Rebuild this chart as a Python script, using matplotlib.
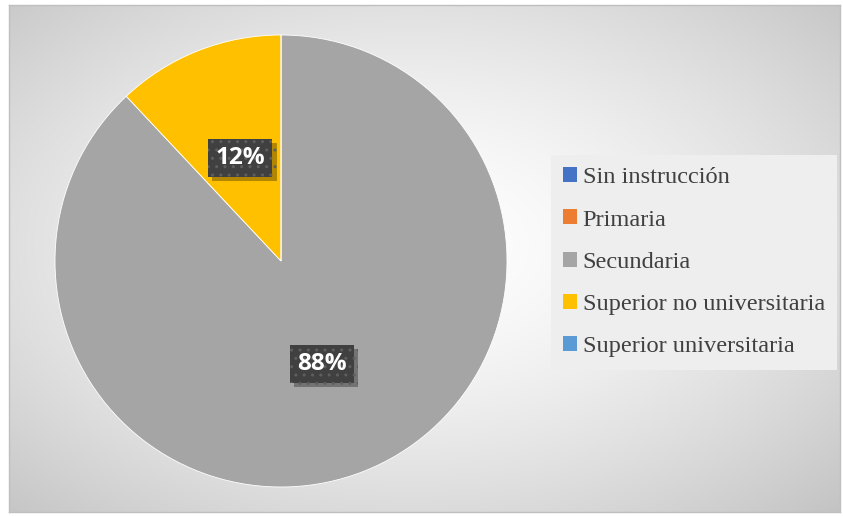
import numpy as np
import matplotlib.pyplot as plt
import matplotlib.patheffects as pe
from matplotlib.patches import Rectangle

categories = ["Sin instrucción", "Primaria", "Secundaria",
              "Superior no universitaria", "Superior universitaria"]
values = [0, 0, 88, 12, 0]
colors = ["#4472c4", "#ed7d31", "#a5a5a5", "#ffc000", "#5b9bd5"]

W, H = 843, 516
fig = plt.figure(figsize=(W / 100, H / 100), dpi=100)
fig.patch.set_facecolor("white")

# chart area with radial gradient background
x0, y0, x1, y1 = 9, 5, 840, 512
bg = fig.add_axes([x0 / W, 1 - y1 / H, (x1 - x0) / W, (y1 - y0) / H])
yy, xx = np.mgrid[-1:1:300j, -1:1:500j]
d = np.sqrt((xx + 0.03) ** 2 + (yy + 0.05) ** 2) / np.sqrt(2)
shade = 1.0 - 0.22 * d ** 1.5
bg.imshow(np.dstack([shade] * 3), aspect="auto", extent=[0, 1, 0, 1])
bg.set_xlim(0, 1)
bg.set_ylim(0, 1)
bg.set_xticks([])
bg.set_yticks([])
for s in bg.spines.values():
    s.set_color("#bfbfbf")
    s.set_linewidth(1.0)

# pie
cx, cy, r = 281, 261, 226
ax = fig.add_axes([(cx - r) / W, 1 - (cy + r) / H, 2 * r / W, 2 * r / H])
ax.set_facecolor("none")
wedges, _ = ax.pie(values, colors=colors, startangle=90, counterclock=False,
                   wedgeprops=dict(linewidth=0.6, edgecolor="white"))
ax.set_xlim(-1, 1)
ax.set_ylim(-1, 1)
ax.set_aspect("auto")

# data labels on dark patterned boxes with a soft shadow
total = sum(values)
for w, v in zip(wedges, values):
    if v == 0:
        continue
    ang = np.deg2rad((w.theta1 + w.theta2) / 2)
    lx, ly = 0.49 * np.cos(ang), 0.49 * np.sin(ang)
    label = f"{round(100 * v / total)}%"
    t = ax.text(lx, ly, label, ha="center", va="center", fontsize=17.5,
                fontweight="bold", color="white", family="Open Sans",
                bbox=dict(boxstyle="square,pad=0.3", facecolor="#404040",
                          edgecolor="#5e5e5e", hatch="..", linewidth=0))
    t.get_bbox_patch().set_path_effects([
        pe.SimplePatchShadow(offset=(3, -3), shadow_rgbFace="#000000", alpha=0.3),
        pe.Normal()])

# legend
handles = [Rectangle((0, 0), 1, 1, facecolor=c, edgecolor="none") for c in colors]
leg = fig.legend(handles, categories, loc="upper left",
                 bbox_to_anchor=(551 / W, 1 - 155 / H),
                 prop=dict(family="Liberation Serif", size=17.6),
                 labelcolor="#404040", frameon=True, fancybox=False,
                 handlelength=0.55, handleheight=0.55, handletextpad=0.25,
                 labelspacing=0.87, borderpad=0.5, borderaxespad=0)
leg.get_frame().set_facecolor("#eeeeee")
leg.get_frame().set_edgecolor("none")
leg.get_frame().set_alpha(1)

fig.savefig("out.png", dpi=100)
